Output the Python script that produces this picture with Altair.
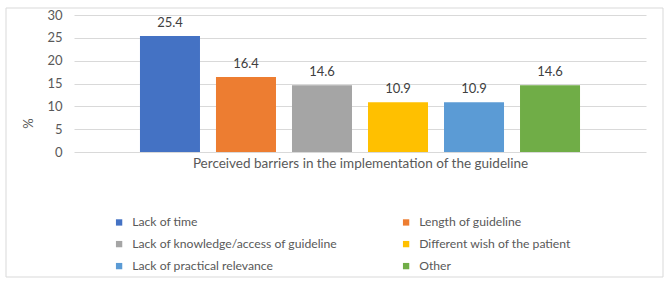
import altair as alt
import pandas as pd

categories = [
    "Lack of time",
    "Length of guideline",
    "Lack of knowledge/access of guideline",
    "Different wish of the patient",
    "Lack of practical relevance",
    "Other",
]
values = [25.4, 16.4, 14.6, 10.9, 10.9, 14.6]
colors = ["#4472C4", "#ED7D31", "#A5A5A5", "#FFC000", "#5B9BD5", "#70AD47"]
y_ticks = [0, 5, 10, 15, 20, 25, 30]

# legend is filled column by column (3 rows x 2 columns)
legend_order = [0, 2, 4, 1, 3, 5]
legend_domain = [categories[i] for i in legend_order]
legend_colors = [colors[i] for i in legend_order]

df = pd.DataFrame({"barrier": categories, "pct": values})
FONT = "Lato"

x_enc = alt.X(
    "barrier:N",
    sort=categories,
    scale=alt.Scale(paddingInner=0.2105, paddingOuter=0.868),
    axis=alt.Axis(
        labels=False, ticks=False, domain=False, grid=False,
        title="Perceived barriers in the implementation of the guideline",
        titleFont=FONT, titleFontSize=13.5, titleFontWeight="normal",
        titleColor="#595959", titleBaseline="middle", titleY=11,
    ),
)
y_enc = alt.Y(
    "pct:Q",
    scale=alt.Scale(domain=[0, 30], nice=False),
    axis=alt.Axis(
        values=y_ticks, tickCount=7, ticks=False, domain=False, grid=True,
        gridColor="#d9d9d9", labelColor="#595959", labelFont=FONT,
        labelFontSize=13, labelPadding=12, labelOverlap=False,
        title="%", titleFont=FONT, titleFontSize=13, titleFontWeight="normal",
        titleColor="#595959", titleAngle=270, titleX=-46, titleY=108,
        titleAlign="center", titleBaseline="middle",
    ),
)

bars = alt.Chart(df).mark_bar().encode(
    x=x_enc,
    y=y_enc,
    color=alt.Color(
        "barrier:N",
        scale=alt.Scale(domain=legend_domain, range=legend_colors),
        legend=alt.Legend(
            title=None, orient="none", legendX=39, legendY=201,
            columns=2, columnPadding=62, rowPadding=9,
            symbolType="square", symbolSize=40, symbolStrokeWidth=0,
            labelFont=FONT, labelFontSize=12.2, labelColor="#595959",
            labelOffset=7, labelLimit=400,
        ),
    ),
)

labels = alt.Chart(df).mark_text(
    baseline="bottom", dy=-6, font=FONT, fontSize=13, color="#404040"
).encode(
    x=x_enc,
    y=y_enc,
    text=alt.Text("pct:Q", format=".1f"),
)

frame = alt.Chart(pd.DataFrame({"a": [0]})).mark_rect(
    filled=False, stroke="#d9d9d9", strokeWidth=1
).encode(
    x=alt.value(-68), x2=alt.value(589), y=alt.value(-7), y2=alt.value(262)
)

chart = alt.layer(bars, labels, frame).properties(
    width=572, height=137,
    autosize=alt.AutoSizeParams(type="none"),
    padding={"left": 74, "top": 15, "right": 23, "bottom": 131},
    background="white",
).configure_view(stroke=None)

chart.save("out.html", embed_options={"renderer": "svg", "actions": False})
